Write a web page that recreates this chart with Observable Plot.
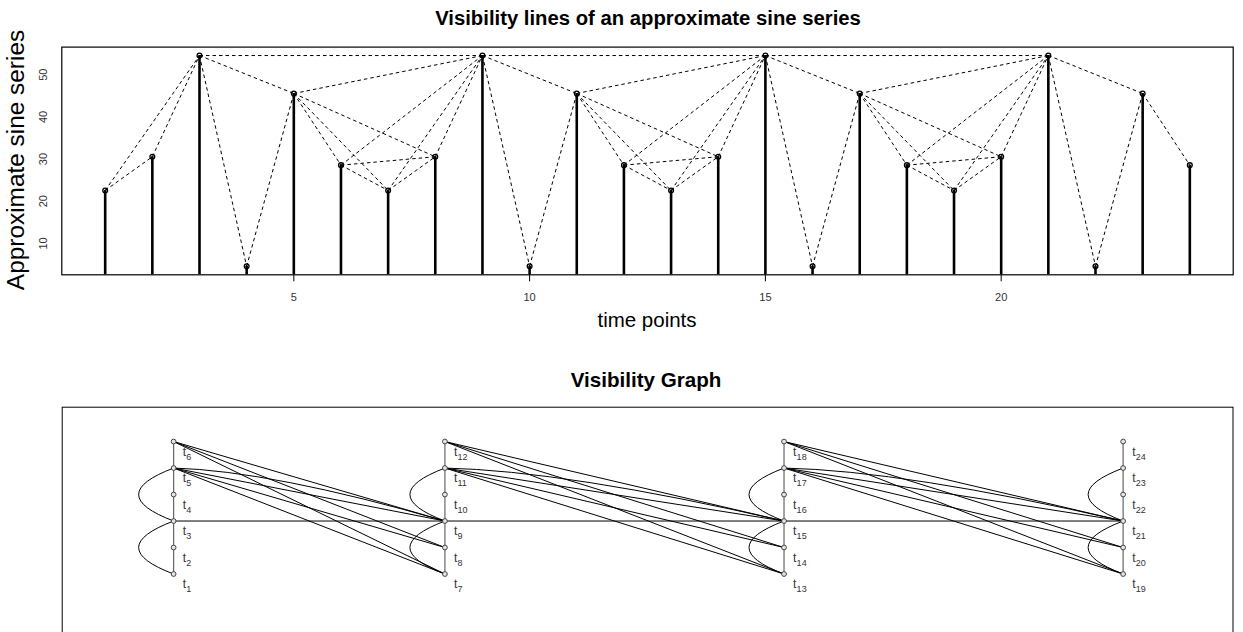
<!DOCTYPE html>
<html><head><meta charset="utf-8">
<script src="https://cdn.jsdelivr.net/npm/d3@7"></script>
<script src="https://cdn.jsdelivr.net/npm/@observablehq/plot@0.6"></script>
<style>
html,body{margin:0;padding:0;background:#fff;overflow:hidden;width:1243px;height:632px;}
#wrap{position:relative;width:1243px;height:632px;font-family:"Liberation Sans",Arial,Helvetica,sans-serif;}
#wrap > svg, #wrap > div{position:absolute;left:0;}
</style></head><body><div id="wrap"></div>
<script>
// ---- data ----
const timePoints = [1,2,3,4,5,6,7,8,9,10,11,12,13,14,15,16,17,18,19,20,21,22,23,24];
const values     = [24,32,56,6,47,30,24,32,56,6,47,30,24,32,56,6,47,30,24,32,56,6,47,30];
// visibility edges (from -> to)
const edgeFrom = [1,1,2,3,3,3,4,5,5,5,5,6,6,6,
                  7,7,8,9,9,9,10,11,11,11,11,12,12,12,
                  13,13,14,15,15,15,16,17,17,17,17,18,18,18,
                  19,19,20,21,21,22,23];
const edgeTo   = [2,3,3,4,5,9,5,6,7,8,9,7,8,9,
                  8,9,9,10,11,15,11,12,13,14,15,13,14,15,
                  14,15,15,16,17,21,17,18,19,20,21,19,20,21,
                  20,21,21,22,23,23,24];
// edges that the graph drawing shows a second, bent copy of
const bentFrom = [5,11,17];
const bentTo   = [9,15,21];
const xTicks = [5,10,15,20];
const yTicks = [10,20,30,40,50];
// graph layout: nodes stacked in columns of six
const columnX = [0, 0.8, 1.8, 2.8];
const nodesPerColumn = 6;

const titleTop = "Visibility lines of an approximate sine series";
const xTitle = "time points";
const yTitle = "Approximate sine series";
const titleBottom = "Visibility Graph";

(function(){
const FONT = '"Liberation Sans",Arial,Helvetica,sans-serif';
const wrap = document.getElementById("wrap");
const series = timePoints.map((t,i)=>({t, v: values[i]}));
const vOf = t => values[timePoints.indexOf(t)];
const edges = edgeFrom.map((a,i)=>({a, b: edgeTo[i]}));

const topPlot = Plot.plot({
  width:1243, height:316,
  marginLeft:61.3, marginRight:10.3, marginTop:46.6, marginBottom:41.7,
  x:{domain:[0.08,24.92], axis:null},
  y:{domain:[4,58], axis:null},
  style:{fontFamily:FONT, background:"transparent", color:"#000"},
  marks:[
    Plot.ruleX(series,{x:"t", y1:0, y2:"v", stroke:"#000", strokeWidth:2.6, clip:true}),
    Plot.link(edges,{x1:"a", y1:d=>vOf(d.a), x2:"b", y2:d=>vOf(d.b), stroke:"#000", strokeWidth:1, strokeDasharray:"3.5,3"}),
    Plot.dot(series,{x:"t", y:"v", r:2.4, stroke:"#000", strokeWidth:1.3, fill:"none"}),
    Plot.frame({stroke:"#000", strokeWidth:1.2}),
    Plot.axisX(xTicks,{anchor:"bottom", tickSize:7, tickPadding:11.7, fontSize:11, label:null, stroke:"#000", fill:"#333"}),
    Plot.text(yTicks,{y:d=>d, frameAnchor:"left", dx:-18, rotate:-90, text:d=>String(d), fontSize:11, fill:"#333"})
  ]
});
topPlot.style.top = "0px";
wrap.appendChild(topPlot);

const nodes = timePoints.map((t,i)=>({t, gx: columnX[Math.floor(i/nodesPerColumn)], gy: i % nodesPerColumn, col: Math.floor(i/nodesPerColumn)}));
const nodeOf = t => nodes[timePoints.indexOf(t)];
const sameCol = e => nodeOf(e.a).col === nodeOf(e.b).col;
const vertical = edges.filter(e => sameCol(e) && Math.abs(e.a-e.b) === 1);
const arcs = edges.filter(e => sameCol(e) && Math.abs(e.a-e.b) === 2);
const straight = edges.filter(e => !(sameCol(e) && Math.abs(e.a-e.b) <= 2));
const bent = bentFrom.map((a,i)=>({a, b: bentTo[i]}));

function bendCurve(off, frac) {
  return (context) => {
    let pts = [];
    return {
      areaStart(){}, areaEnd(){},
      lineStart(){ pts = []; },
      point(x,y){ pts.push([+x,+y]); },
      lineEnd(){
        const [a,b] = pts;
        const dx=b[0]-a[0], dy=b[1]-a[1], len=Math.hypot(dx,dy)||1;
        const px = dy/len, py = -dx/len;
        const cx = a[0]+dx*frac + px*off, cy = a[1]+dy*frac + py*off;
        context.moveTo(a[0],a[1]);
        context.quadraticCurveTo(cx,cy,b[0],b[1]);
      }
    };
  };
}
const chan = {x1:d=>nodeOf(d.a).gx, y1:d=>nodeOf(d.a).gy, x2:d=>nodeOf(d.b).gx, y2:d=>nodeOf(d.b).gy};

const bottomPlot = Plot.plot({
  width:1243, height:337,
  marginLeft:61.7, marginRight:10.5, marginTop:90.7, marginBottom:0,
  x:{domain:[-0.3286,3.124], axis:null},
  y:{domain:[-3,6.296], axis:null},
  style:{fontFamily:FONT, background:"transparent", color:"#000"},
  marks:[
    Plot.frame({stroke:"#000", strokeWidth:1}),
    Plot.link(vertical,{...chan, stroke:"#666", strokeWidth:1.2}),
    Plot.link(arcs,{...chan, stroke:"#000", strokeWidth:1, curve: bendCurve(70, 0.5)}),
    Plot.link(straight,{...chan, stroke:"#000", strokeWidth:1}),
    Plot.link(bent,{...chan, stroke:"#000", strokeWidth:1, curve: bendCurve(16, 0.35)}),
    Plot.dot(nodes,{x:"gx", y:"gy", r:2.4, fill:"#e4e4e4", stroke:"#444", strokeWidth:1}),
    Plot.text(nodes,{x:"gx", y:"gy", text:()=> "t", dx:9, dy:10.2, textAnchor:"start", fontSize:12, fill:"#333"}),
    Plot.text(nodes,{x:"gx", y:"gy", text:d=>String(d.t), dx:12.6, dy:15.1, textAnchor:"start", fontSize:9, fill:"#333"})
  ]
});
bottomPlot.style.top = "316px";
wrap.appendChild(bottomPlot);

const ns = "http://www.w3.org/2000/svg";
const ov = document.createElementNS(ns,"svg");
ov.setAttribute("width",1243); ov.setAttribute("height",632);
ov.style.top = "0px"; ov.style.pointerEvents="none";
function addText(str, x, y, size, weight, rot){
  const t = document.createElementNS(ns,"text");
  t.textContent = str;
  t.setAttribute("x",0); t.setAttribute("y",0);
  t.setAttribute("text-anchor","middle");
  t.setAttribute("font-family", FONT);
  t.setAttribute("font-size", size);
  t.setAttribute("font-weight", weight);
  t.setAttribute("fill","#000");
  t.setAttribute("transform", `translate(${x},${y})` + (rot ? ` rotate(${rot})` : ""));
  ov.appendChild(t);
}
addText(titleTop, 648, 25, 20.3, "bold");
addText(xTitle, 647, 327, 20.5, "normal");
addText(yTitle, 24, 160, 24.4, "normal", -90);
addText(titleBottom, 646, 387, 20.6, "bold");
wrap.appendChild(ov);
})();
</script>
</body></html>
